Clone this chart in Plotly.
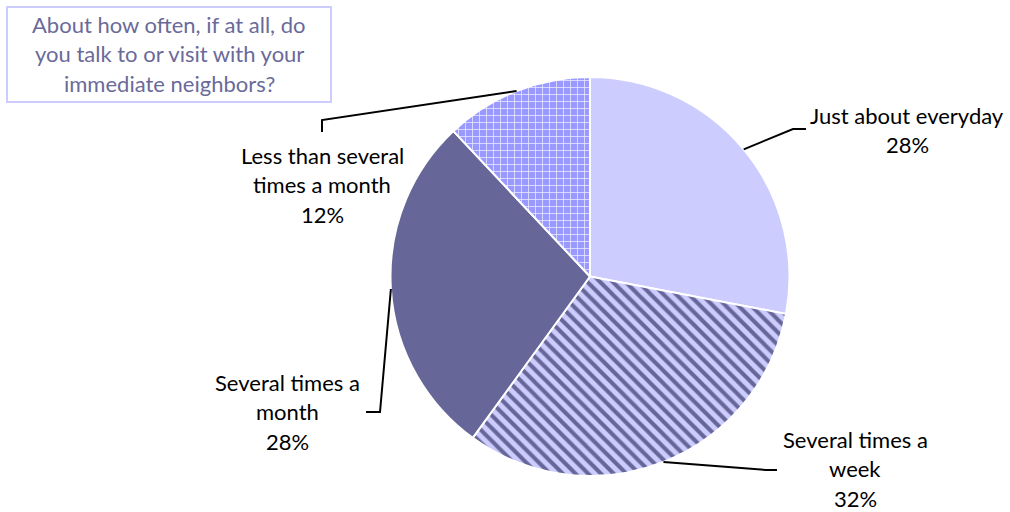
import math
import plotly.graph_objects as go

# Survey answers, clockwise from 12 o'clock
categories = ["Just about everyday", "Several times a week",
              "Several times a month", "Less than several times a month"]
shares = [28, 32, 28, 12]
# how each category name is wrapped on the chart
name_lines = [["Just about everyday"],
              ["Several times a", "week"],
              ["Several times a", "month"],
              ["Less than several", "times a month"]]
title_lines = ["About how often, if at all, do",
               "you talk to or visit with your",
               "immediate neighbors?"]

W, H = 1010, 512
CX, CY, R = 590, 276.5, 199.5   # pie centre / radius in pixels
FONT = "Lato"
FSIZE = 22


def px(x):
    return x / W


def py(y):
    return 1 - y / H


fig = go.Figure(go.Pie(
    labels=categories,
    values=shares,
    sort=False,
    direction="clockwise",
    rotation=0,
    textinfo="none",
    hoverinfo="label+percent",
    domain=dict(x=[px(CX - R), px(CX + R)], y=[py(CY + R), py(CY - R)]),
    marker=dict(
        colors=["#CCCCFF", "#CCCCFF", "#666699", "#9999FF"],
        line=dict(color="white", width=2),
        pattern=dict(
            shape=["", "\\", "", "+"],
            fillmode="replace",
            bgcolor=["#CCCCFF", "#CCCCFF", "#666699", "#9999FF"],
            fgcolor=["#CCCCFF", "#666699", "#666699", "#EEEEFF"],
            fgopacity=1,
            size=[8, 9, 8, 7],
            solidity=[0.3, 0.45, 0.3, 0.2],
        ),
    ),
    showlegend=False,
))

# label placement (pixels): centre x, first line y, elbow and end of leader line
label_pos = [
    dict(x=907, y=115, elbow=(793, 129), end=(806, 129)),
    dict(x=855, y=439, elbow=(766, 470), end=(777, 470)),
    dict(x=287, y=382, elbow=(380, 412), end=(366, 412)),
    dict(x=322, y=155, elbow=(322, 120), end=(322, 132)),
]

total = sum(shares)
start = 0.0
annotations = []
shapes = []
for i, v in enumerate(shares):
    mid = (start + v / 2) / total * 2 * math.pi
    start += v
    sx = CX + R * math.sin(mid)
    sy = CY - R * math.cos(mid)
    lp = label_pos[i]
    ex, ey = lp["elbow"]
    tx, ty = lp["end"]
    shapes.append(dict(
        type="path", xref="paper", yref="paper",
        path=f"M {px(sx)} {py(sy)} L {px(ex)} {py(ey)} L {px(tx)} {py(ty)}",
        line=dict(color="black", width=2),
    ))
    lines = name_lines[i] + [f"{v}%"]
    for k, t in enumerate(lines):
        annotations.append(dict(
            x=px(lp["x"]), y=py(lp["y"] + 29.5 * k), xref="paper", yref="paper",
            text=t, showarrow=False, xanchor="center", yanchor="middle",
            font=dict(family=FONT, size=FSIZE, color="black"),
        ))

# title box
shapes.append(dict(type="rect", xref="paper", yref="paper",
                   x0=px(7), x1=px(331), y0=py(102), y1=py(7),
                   line=dict(color="#CCCCFF", width=2), fillcolor="white",
                   layer="below"))
for k, t in enumerate(title_lines):
    annotations.append(dict(
        x=px(169), y=py(24 + 29.5 * k), xref="paper", yref="paper",
        text=t, showarrow=False, xanchor="center", yanchor="middle",
        font=dict(family=FONT, size=FSIZE, color="#6A6A9A"),
    ))

fig.update_layout(
    width=W, height=H,
    margin=dict(l=0, r=0, t=0, b=0),
    paper_bgcolor="white",
    plot_bgcolor="white",
    shapes=shapes,
    annotations=annotations,
)

# let the figure fill the window from its top-left corner
fig.write_html("out.html", config={"displayModeBar": False},
               post_script="document.body.style.margin='0';")
